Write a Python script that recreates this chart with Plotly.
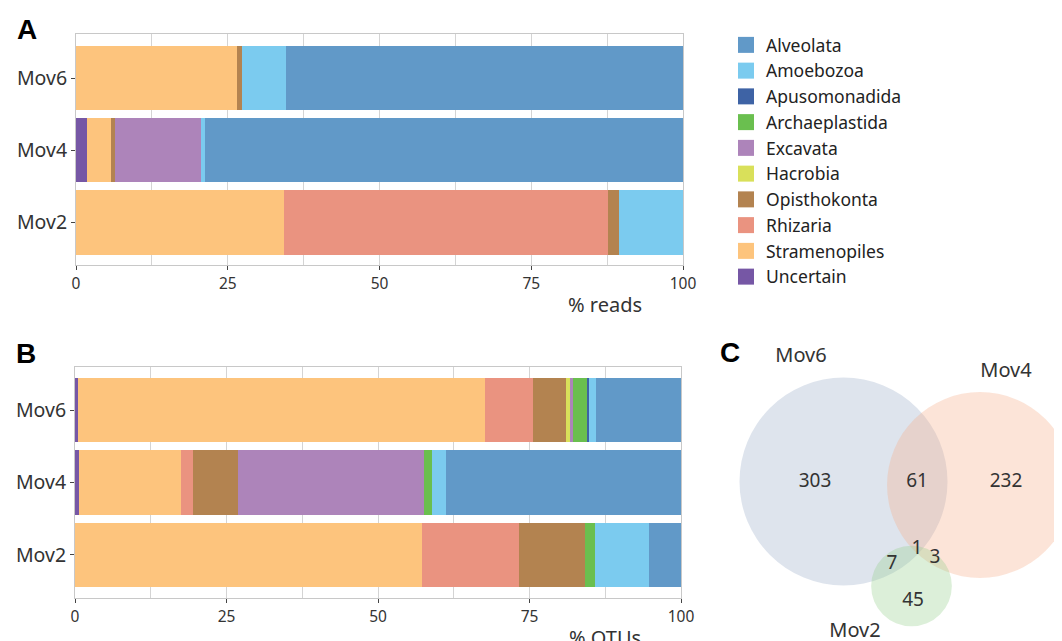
import math
import plotly.graph_objects as go

# ---------------- data ----------------
samples = ["Mov2", "Mov4", "Mov6"]  # bottom to top
taxa = ["Uncertain", "Stramenopiles", "Rhizaria", "Opisthokonta", "Hacrobia",
        "Excavata", "Archaeplastida", "Apusomonadida", "Amoebozoa", "Alveolata"]
colors = ["#7657A5", "#FDC47D", "#EA9380", "#B38350", "#D9E05A",
          "#AD84BA", "#6ABF4F", "#3E63A5", "#7BCBEF", "#6199C8"]

# % reads (panel A), in taxa order
reads_mov2 = [0, 34.2, 53.4, 1.9, 0, 0, 0, 0, 10.5, 0]
reads_mov4 = [1.8, 3.9, 0, 0.8, 0, 14.1, 0, 0, 0.7, 78.7]
reads_mov6 = [0, 26.6, 0, 0.7, 0, 0, 0, 0, 7.3, 65.4]

# % OTUs (panel B), in taxa order
otus_mov2 = [0, 57.2, 16.1, 10.8, 0, 0, 1.7, 0, 9.0, 5.2]
otus_mov4 = [0.7, 16.8, 2.0, 7.4, 0, 30.7, 1.3, 0, 2.4, 38.7]
otus_mov6 = [0.5, 67.2, 7.9, 5.4, 0.7, 0.5, 2.3, 0.3, 1.1, 14.1]

xticks = [0, 25, 50, 75, 100]

# Venn counts (panel C)
venn_sets = ["Mov6", "Mov4", "Mov2"]
only6, only4, only2 = 303, 232, 45
s64, s62, s42, s642 = 61, 7, 3, 1

# ---------------- figure ----------------
W, H = 1062, 641
OFF = 8  # page body margin offset
FONT = "Noto Sans"
fig = go.Figure()

reads = [reads_mov2, reads_mov4, reads_mov6]
otus = [otus_mov2, otus_mov4, otus_mov6]
for i, t in enumerate(taxa):
    fig.add_trace(go.Bar(y=samples, x=[r[i] for r in reads], orientation="h",
                         marker=dict(color=colors[i], line=dict(width=0)),
                         name=t, showlegend=False, xaxis="x", yaxis="y"))
    fig.add_trace(go.Bar(y=samples, x=[o[i] for o in otus], orientation="h",
                         marker=dict(color=colors[i], line=dict(width=0)),
                         name=t, showlegend=False, xaxis="x2", yaxis="y2"))
    # legend entries
    fig.add_trace(go.Scatter(x=[None], y=[None], mode="markers", name=t,
                             marker=dict(symbol="square", size=16, color=colors[i]),
                             xaxis="x", yaxis="y", showlegend=True))

def px_x(p):
    return (p - OFF) / W

def px_y(p):
    return 1 - (p - OFF) / H

xa = dict(range=[0, 100], tickvals=xticks, showgrid=True, gridcolor="#D4D4D4",
          minor=dict(dtick=12.5, tick0=0, showgrid=True, gridcolor="#D4D4D4", ticks=""),
          ticks="outside", ticklen=4, tickcolor="#444", showline=True, linecolor="#C8C8C8",
          mirror=True, zeroline=False, tickfont=dict(size=15.5, color="#333", family=FONT),
          fixedrange=True, automargin=False)
ya = dict(type="category", categoryorder="array", categoryarray=samples,
          ticks="outside", ticklen=4, tickcolor="#444", showline=True, linecolor="#C8C8C8",
          mirror=True, showgrid=False, tickfont=dict(size=19.5, color="#333", family=FONT),
          fixedrange=True, automargin=False)

fig.update_layout(
    width=W, height=H, margin=dict(l=0, r=0, t=0, b=0, autoexpand=False),
    paper_bgcolor="white", plot_bgcolor="white",
    barmode="stack", bargap=0.11,
    font=dict(family=FONT, color="#333"),
    xaxis=dict(xa, domain=[px_x(76), px_x(683)], anchor="y"),
    yaxis=dict(ya, domain=[px_y(265), px_y(34)], anchor="x", range=[-0.59, 2.61]),
    xaxis2=dict(xa, domain=[px_x(75), px_x(681)], anchor="y2"),
    yaxis2=dict(ya, domain=[px_y(598), px_y(367)], anchor="x2", range=[-0.6, 2.6]),
    xaxis3=dict(domain=[px_x(700), 1], range=[700, W + OFF], visible=False, anchor="y3",
                fixedrange=True, automargin=False),
    yaxis3=dict(domain=[0, px_y(301)], range=[H + OFF, 301], visible=False, anchor="x3",
                fixedrange=True, automargin=False),
    legend=dict(x=px_x(726), y=px_y(27), xanchor="left", yanchor="top",
                traceorder="reversed", font=dict(size=17.5, color="#222", family=FONT),
                bgcolor="rgba(0,0,0,0)", itemclick=False),
)

# ---------------- Venn (panel C) ----------------
tot6 = only6 + s64 + s62 + s642
tot4 = only4 + s64 + s42 + s642
tot2 = only2 + s62 + s42 + s642
k = 104 / math.sqrt(tot6)
radii = [k * math.sqrt(t) for t in (tot6, tot4, tot2)]
centers = [(843.5, 481.5), (980, 485), (911.5, 586)]
venn_fill = ["rgba(173,187,211,0.40)", "rgba(247,172,138,0.33)", "rgba(150,205,140,0.33)"]
for (cx, cy), r, fc in zip(centers, radii, venn_fill):
    fig.add_shape(type="circle", xref="x3", yref="y3", x0=cx - r, x1=cx + r,
                  y0=cy - r, y1=cy + r, fillcolor=fc, line=dict(width=0), layer="below")

counts = [only6, s64, only4, s642, s62, s42, only2]
count_pos = [(815, 482), (917, 482), (1006, 482), (917, 549), (892, 564), (935, 558), (913, 601)]
fig.add_trace(go.Scatter(x=[p[0] for p in count_pos], y=[p[1] for p in count_pos],
                         text=[str(c) for c in counts], mode="text",
                         textfont=dict(size=19, color="#333", family=FONT),
                         xaxis="x3", yaxis="y3", showlegend=False, hoverinfo="skip",
                         cliponaxis=False))
set_label_pos = [(801, 357), (1006, 372), (855, 632)]
fig.add_trace(go.Scatter(x=[p[0] for p in set_label_pos], y=[p[1] for p in set_label_pos],
                         text=venn_sets, mode="text",
                         textfont=dict(size=20, color="#333", family=FONT),
                         xaxis="x3", yaxis="y3", showlegend=False, hoverinfo="skip",
                         cliponaxis=False))

# ---------------- annotations ----------------
def ann(text, x, y, size, bold=False, color="#333", family=FONT):
    fig.add_annotation(text=f"<b>{text}</b>" if bold else text, xref="paper", yref="paper",
                       x=px_x(x), y=px_y(y), xanchor="center", yanchor="middle",
                       showarrow=False, font=dict(size=size, color=color, family=family))

ann("A", 27, 29, 28, bold=True, color="#000", family="Liberation Sans")
ann("B", 26, 353, 28, bold=True, color="#000", family="Liberation Sans")
ann("C", 730, 352, 28, bold=True, color="#000", family="Liberation Sans")
ann("% reads", 605, 305, 20)
ann("% OTUs", 605, 637, 20)

fig.write_html("out.html")
